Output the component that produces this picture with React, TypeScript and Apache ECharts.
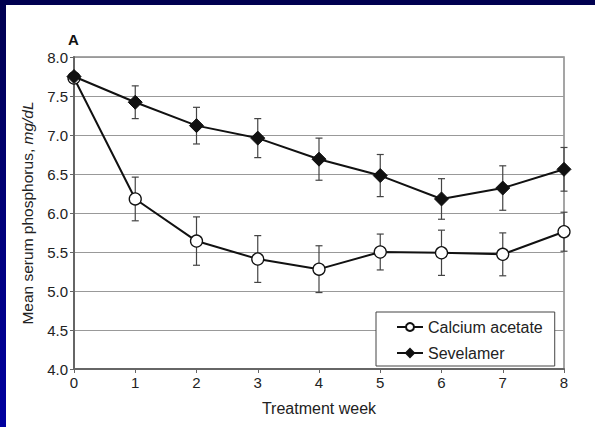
import React, { useEffect, useRef } from "react";
import * as echarts from "echarts";

const weeks = [0, 1, 2, 3, 4, 5, 6, 7, 8];
const calciumMean = [7.73, 6.18, 5.64, 5.41, 5.28, 5.5, 5.49, 5.47, 5.76];
const calciumErr = [0, 0.28, 0.31, 0.3, 0.3, 0.23, 0.29, 0.275, 0.25];
const sevelamerMean = [7.75, 7.42, 7.12, 6.96, 6.69, 6.48, 6.18, 6.32, 6.56];
const sevelamerErr = [0, 0.21, 0.235, 0.25, 0.27, 0.27, 0.26, 0.285, 0.28];
const yTicks = ["4.0", "4.5", "5.0", "5.5", "6.0", "6.5", "7.0", "7.5", "8.0"];

const FONT = "Liberation Sans, Arial, sans-serif";

function errorSeries(name: string, means: number[], errs: number[]) {
  const data = weeks
    .map((w, i) => [w, means[i] - errs[i], means[i] + errs[i]])
    .filter((_, i) => errs[i] > 0);
  return {
    type: "custom",
    name: name + "-err",
    data,
    z: 1,
    renderItem: (params: any, api: any) => {
      const x = api.value(0);
      const lo = api.coord([x, api.value(1)]);
      const hi = api.coord([x, api.value(2)]);
      const cap = 3.5;
      const style = { stroke: "#444", lineWidth: 1.2, fill: "none" };
      return {
        type: "group",
        children: [
          { type: "line", shape: { x1: lo[0], y1: lo[1], x2: hi[0], y2: hi[1] }, style },
          { type: "line", shape: { x1: lo[0] - cap, y1: lo[1], x2: lo[0] + cap, y2: lo[1] }, style },
          { type: "line", shape: { x1: hi[0] - cap, y1: hi[1], x2: hi[0] + cap, y2: hi[1] }, style },
        ],
      };
    },
  };
}

export default function App() {
  const ref = useRef<HTMLDivElement>(null);
  useEffect(() => {
    document.body.style.margin = "0";
    const chart = echarts.init(ref.current!, null, { renderer: "svg" });
    chart.setOption({
      animation: false,
      backgroundColor: "#ffffff",
      textStyle: { fontFamily: FONT },
      graphic: [
        {
          type: "rect",
          shape: { x: 0, y: 0, width: 6, height: 427 },
          style: {
            fill: new echarts.graphic.LinearGradient(0, 0, 0, 1, [
              { offset: 0, color: "#000050" },
              { offset: 1, color: "#0000a0" },
            ]),
          },
          z: 100,
        },
        { type: "rect", shape: { x: 0, y: 0, width: 595, height: 5 }, style: { fill: "#000050" }, z: 100 },
        {
          type: "text",
          left: 68,
          top: 32,
          style: { text: "A", font: `bold 15px ${FONT}`, fill: "#111" },
        },
        {
          type: "text",
          x: 27,
          y: 213,
          rotation: Math.PI / 2,
          style: {
            text: "{a|Mean serum phosphorus, }{i|mg/dL}",
            align: "center",
            verticalAlign: "middle",
            rich: {
              a: { fontSize: 15.5, fill: "#222", fontFamily: FONT },
              i: { fontSize: 15.5, fill: "#222", fontFamily: FONT, fontStyle: "italic" },
            },
          },
        },
      ],
      grid: {
        left: 74,
        right: 31,
        top: 57,
        bottom: 58,
        show: true,
        borderColor: "#888",
        borderWidth: 1.5,
        backgroundColor: "transparent",
      },
      legend: {
        orient: "vertical",
        left: 376,
        top: 312,
        width: 180,
        padding: [7, 12, 5, 20],
        itemGap: 10,
        itemWidth: 26,
        itemHeight: 10,
        borderColor: "#444",
        borderWidth: 1,
        backgroundColor: "#fff",
        data: ["Calcium acetate", "Sevelamer"],
        textStyle: { fontSize: 16, color: "#222", fontFamily: FONT, padding: [0, 0, 0, 0] },
      },
      xAxis: {
        type: "value",
        min: 0,
        max: 8,
        interval: 1,
        name: "Treatment week",
        nameLocation: "middle",
        nameGap: 31,
        nameTextStyle: { fontSize: 16, color: "#222", fontFamily: FONT },
        axisLine: { lineStyle: { color: "#666", width: 2 } },
        axisTick: { show: true, length: 4, lineStyle: { color: "#666" } },
        axisLabel: { fontSize: 15, color: "#222", margin: 6, fontFamily: FONT },
        splitLine: { show: false },
      },
      yAxis: {
        type: "value",
        min: 4,
        max: 8,
        interval: 0.5,
        axisLine: { show: true, lineStyle: { color: "#666", width: 2 } },
        axisTick: { show: true, length: 4, lineStyle: { color: "#666" } },
        axisLabel: {
          fontSize: 15,
          color: "#222",
          margin: 6,
          fontFamily: FONT,
          formatter: (v: number) => yTicks[Math.round((v - 4) / 0.5)] ?? "",
        },
        splitLine: { show: true, lineStyle: { color: "#999", width: 1.2 } },
      },
      series: [
        errorSeries("Calcium acetate", calciumMean, calciumErr),
        errorSeries("Sevelamer", sevelamerMean, sevelamerErr),
        {
          type: "line",
          name: "Calcium acetate",
          data: weeks.map((w, i) => [w, calciumMean[i]]),
          symbol: "circle",
          symbolSize: 12,
          lineStyle: { color: "#111", width: 2 },
          itemStyle: { color: "#fff", borderColor: "#111", borderWidth: 1.3 },
          z: 3,
        },
        {
          type: "line",
          name: "Sevelamer",
          data: weeks.map((w, i) => [w, sevelamerMean[i]]),
          symbol: "diamond",
          symbolSize: [14, 14],
          lineStyle: { color: "#111", width: 2 },
          itemStyle: { color: "#111", borderColor: "#111", borderWidth: 1 },
          z: 4,
        },
      ],
    });
    return () => chart.dispose();
  }, []);
  return (
    <div
      ref={ref}
      style={{ position: "fixed", left: 0, top: 0, width: 595, height: 427, background: "#fff" }}
    />
  );
}
